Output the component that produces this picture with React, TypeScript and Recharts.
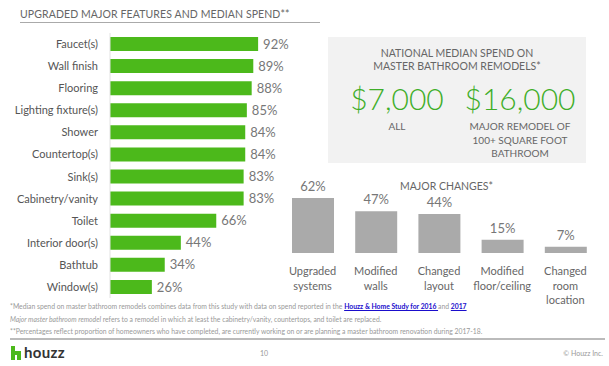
import { BarChart, Bar, XAxis, YAxis, LabelList, Cell } from "recharts";

const features = [
  "Faucet(s)", "Wall finish", "Flooring", "Lighting fixture(s)", "Shower", "Countertop(s)",
  "Sink(s)", "Cabinetry/vanity", "Toilet", "Interior door(s)", "Bathtub", "Window(s)",
];
const featureShares = [92, 89, 88, 85, 84, 84, 83, 83, 66, 44, 34, 26];

const changes = ["Upgraded\nsystems", "Modified\nwalls", "Changed\nlayout", "Modified\nfloor/ceiling", "Changed\nroom\nlocation"];
const changeShares = [62, 47, 44, 15, 7];

const featureData = features.map((name, i) => ({ name, value: featureShares[i] }));
const changeData = changes.map((name, i) => ({ name, value: changeShares[i] }));

const GREEN = "#4cb91b";
const FONT = "Lato, 'Open Sans', sans-serif";

function MultiTick({ x, y, payload }: any) {
  const lines = String(payload.value).split("\n");
  return (
    <text x={x} y={y} textAnchor="middle" fill="#666" fontSize={11} fontFamily={FONT}>
      {lines.map((l, i) => (
        <tspan key={i} x={x} dy={i === 0 ? 14 : 14.5}>{l}</tspan>
      ))}
    </text>
  );
}

function SideTick({ x, y, payload }: any) {
  return (
    <text x={x - 10} y={y} dy={4} textAnchor="end" fill="#555" fontSize={11} fontFamily={FONT}>
      {payload.value}
    </text>
  );
}

const pct = (v: any) => `${v}%`;

export default function App() {
  return (
    <div style={{ position: "absolute", left: 0, top: 0, width: 609, height: 366, background: "#fff", fontFamily: FONT, overflow: "hidden" }}>
      <div style={{ position: "absolute", left: 20, top: 8, fontSize: 10.5, color: "#666", letterSpacing: 0.1 }}>
        UPGRADED MAJOR FEATURES AND MEDIAN SPEND**
      </div>
      <div style={{ position: "absolute", left: 20, top: 22, width: 300, height: 1, background: "#aaa" }} />

      <div style={{ position: "absolute", left: 0, top: 33 }}>
        <BarChart width={300} height={265} data={featureData} layout="vertical"
          margin={{ top: 0, right: 29, bottom: 0, left: 0 }} barCategoryGap={4}>
          <XAxis type="number" domain={[0, 100]} hide />
          <YAxis type="category" dataKey="name" width={110} tickLine={false} tickSize={0}
            axisLine={{ stroke: "#e2e2e2" }} tick={<SideTick />} interval={0} />
          <Bar dataKey="value" fill={GREEN} barSize={14} isAnimationActive={false}>
            <LabelList dataKey="value" position="right" offset={5} formatter={pct}
              style={{ fill: "#777", fontSize: 13, fontFamily: FONT }} />
          </Bar>
        </BarChart>
      </div>

      <div style={{ position: "absolute", left: 328, top: 37, width: 258, height: 126, background: "#f2f2f2" }}>
        <div style={{ position: "absolute", left: 0, width: 258, top: 10, textAlign: "center", fontSize: 10.5, color: "#666", lineHeight: "12.5px" }}>
          NATIONAL MEDIAN SPEND ON<br />MASTER BATHROOM REMODELS*
        </div>
        <div style={{ position: "absolute", left: 14, width: 110, top: 43, textAlign: "center", fontSize: 30, color: "#3fae29", fontWeight: 300 }}>
          $7,000
        </div>
        <div style={{ position: "absolute", left: 132, width: 120, top: 43, textAlign: "center", fontSize: 30, color: "#3fae29", fontWeight: 300 }}>
          $16,000
        </div>
        <div style={{ position: "absolute", left: 14, width: 110, top: 83, textAlign: "center", fontSize: 10, color: "#666" }}>ALL</div>
        <div style={{ position: "absolute", left: 132, width: 120, top: 83, textAlign: "center", fontSize: 10, color: "#666", lineHeight: "13.5px" }}>
          MAJOR REMODEL OF<br />100+ SQUARE FOOT<br />BATHROOM
        </div>
      </div>

      <div style={{ position: "absolute", left: 400, top: 180, fontSize: 10.5, color: "#666" }}>MAJOR CHANGES*</div>

      <div style={{ position: "absolute", left: 281, top: 170 }}>
        <BarChart width={316} height={143} data={changeData} margin={{ top: 21, right: 0, bottom: 0, left: 0 }}>
          <YAxis type="number" domain={[0, 70]} hide />
          <XAxis dataKey="name" axisLine={false} tickLine={false} height={60} interval={0} tick={<MultiTick />} />
          <Bar dataKey="value" fill="#aaaaaa" barSize={42} isAnimationActive={false}>
            {changeData.map((d) => <Cell key={d.name} fill="#aaaaaa" />)}
            <LabelList dataKey="value" position="top" offset={7} formatter={pct}
              style={{ fill: "#777", fontSize: 13, fontFamily: FONT }} />
          </Bar>
        </BarChart>
      </div>

      <div style={{ position: "absolute", left: 10, top: 300, fontSize: 6.8, color: "#999", lineHeight: "12.5px", whiteSpace: "nowrap" }}>
        <div>
          *Median spend on master bathroom remodels combines data from this study with data on spend reported in the{" "}
          <span style={{ color: "#1a0dcc", fontWeight: 700, textDecoration: "underline" }}>Houzz &amp; Home Study for 2016 </span> and{" "}
          <span style={{ color: "#1a0dcc", fontWeight: 700, textDecoration: "underline" }}>2017</span>
        </div>
        <div><i>Major master bathroom remodel</i> refers to a remodel in which at least the cabinetry/vanity, countertops, and toilet are replaced.</div>
        <div>**Percentages reflect proportion of homeowners who have completed, are currently working on or are planning a master bathroom renovation during 2017-18.</div>
      </div>
      <div style={{ position: "absolute", left: 10, top: 338, width: 595, height: 2, background: "#bbb" }} />

      <svg style={{ position: "absolute", left: 10, top: 346 }} width={12} height={14}>
        <path d="M1 0 H5 V5 H11 V14 H7 V9 H5 V14 H1 Z" fill="#4cb91b" />
      </svg>
      <div style={{ position: "absolute", left: 24, top: 343, fontSize: 15, fontWeight: 700, color: "#333", letterSpacing: 0.3 }}>houzz</div>
      <div style={{ position: "absolute", left: 260, top: 349, fontSize: 7, color: "#999" }}>10</div>
      <div style={{ position: "absolute", right: 6, top: 349, fontSize: 7, color: "#999" }}>© Houzz Inc.</div>
    </div>
  );
}
